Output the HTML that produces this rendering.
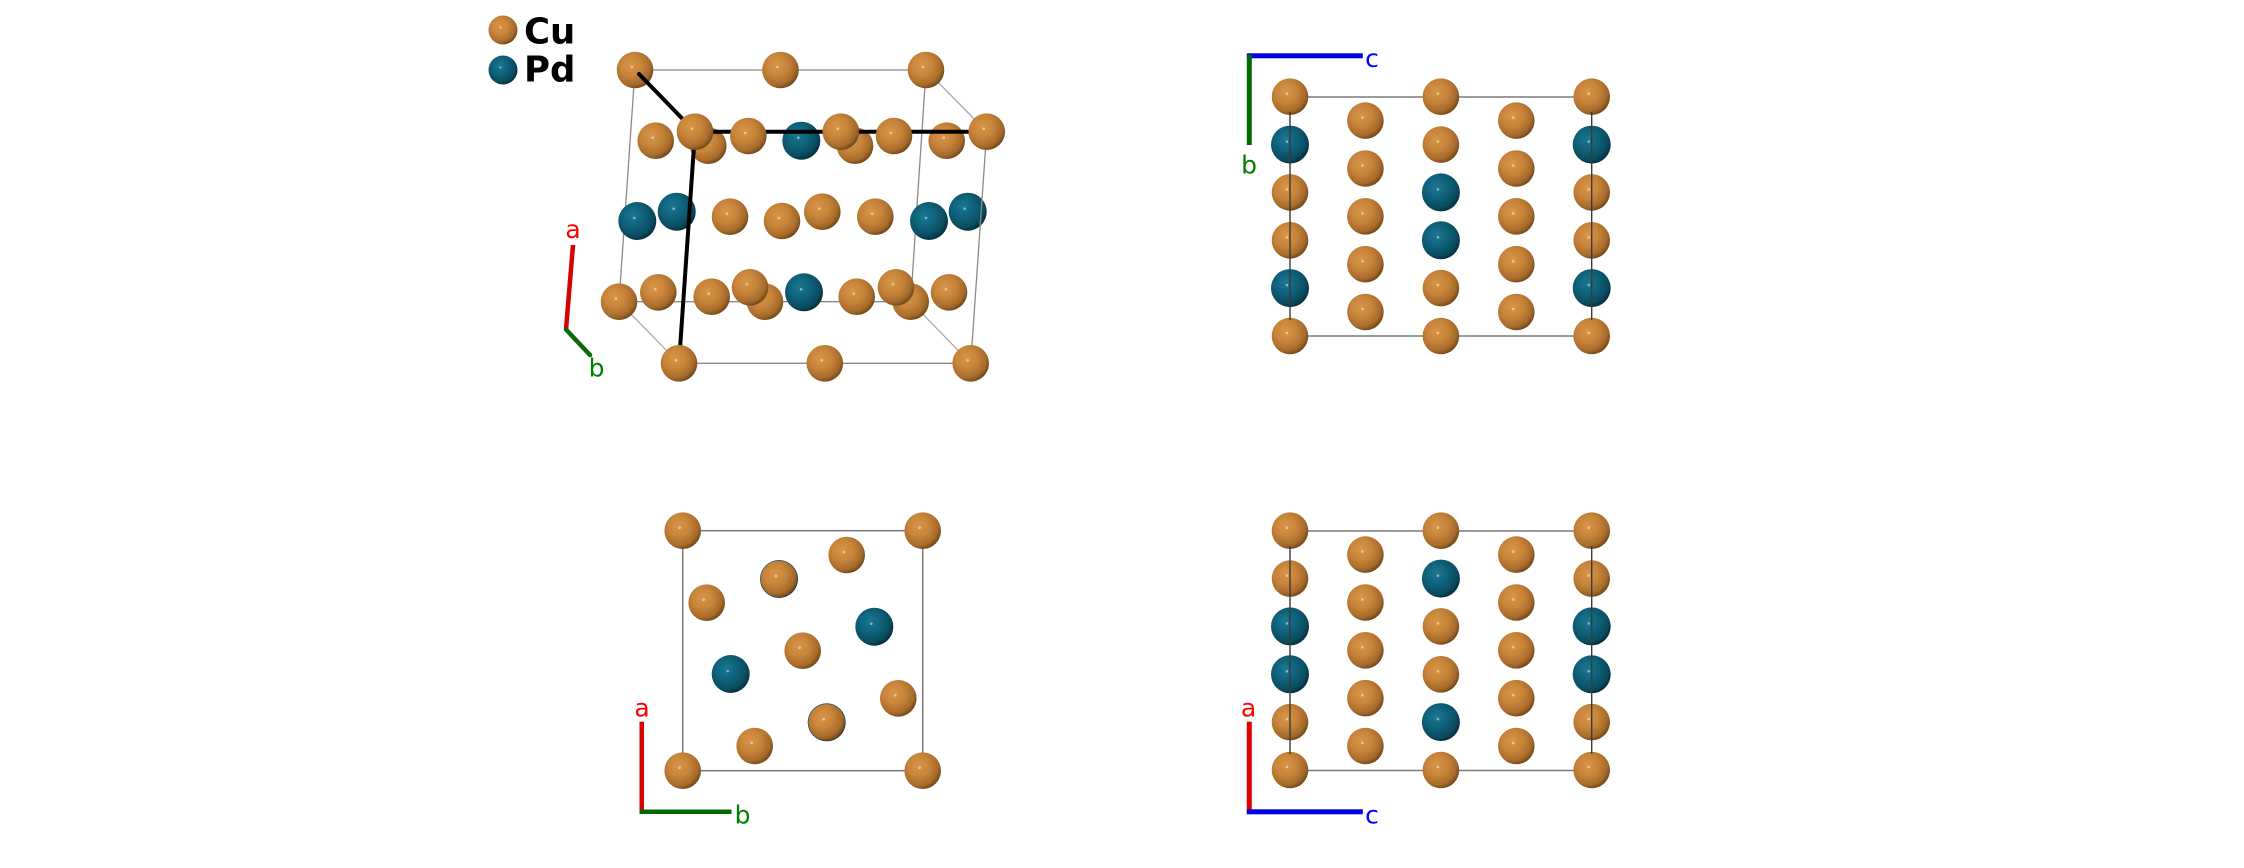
<!DOCTYPE html>
<html><head><meta charset="utf-8"><style>
html,body{margin:0;padding:0;background:#fff;}
svg{display:block;}
text{font-family:"DejaVu Sans","Liberation Sans",sans-serif;}
</style></head><body>
<svg width="2244" height="868" viewBox="0 0 2244 868" xmlns="http://www.w3.org/2000/svg">
<defs>
<radialGradient id="cu" cx="0.4" cy="0.38" r="0.66" fx="0.38" fy="0.36">
<stop offset="0" stop-color="#d99548"/>
<stop offset="0.45" stop-color="#c7843a"/>
<stop offset="0.8" stop-color="#a66a2b"/>
<stop offset="1" stop-color="#6a4316"/>
</radialGradient>
<radialGradient id="pd" cx="0.4" cy="0.38" r="0.66" fx="0.38" fy="0.36">
<stop offset="0" stop-color="#1a7892"/>
<stop offset="0.45" stop-color="#0f617a"/>
<stop offset="0.8" stop-color="#0a4b5f"/>
<stop offset="1" stop-color="#032a37"/>
</radialGradient>
<g id="C"><circle r="18.3" fill="url(#cu)"/><circle cx="-3" cy="-3" r="1.3" fill="#ecc9a0"/></g>
<g id="P"><circle r="19" fill="url(#pd)"/><circle cx="-3" cy="-3" r="1.3" fill="#86b8c8"/></g>
<g id="Cl"><circle r="14.5" fill="url(#cu)"/><circle cx="-2.5" cy="-2.5" r="1.1" fill="#ecc9a0"/></g>
<g id="Pl"><circle r="14.5" fill="url(#pd)"/><circle cx="-2.5" cy="-2.5" r="1.1" fill="#86b8c8"/></g>
</defs>

<!-- Legend -->
<use href="#Cl" x="503" y="30"/>
<use href="#Pl" x="503" y="70"/>
<text x="524" y="43.5" font-size="35.5" font-weight="bold" fill="#000">Cu</text>
<text x="524" y="81.7" font-size="35.5" font-weight="bold" fill="#000">Pd</text>

<!-- ===== Panel 1 : 3D view ===== -->
<g stroke="#8a8a8a" stroke-width="1.3" fill="none">
<line x1="635" y1="70" x2="926" y2="70"/>
<line x1="635" y1="70" x2="619" y2="301.7"/>
<line x1="926" y1="70" x2="910.7" y2="301.7"/>
<line x1="619" y1="301.7" x2="910.7" y2="301.7"/>
<line x1="926" y1="70" x2="986.7" y2="131.7" stroke="#aaa"/>
<line x1="619" y1="301.7" x2="679" y2="363.3" stroke="#aaa"/>
<line x1="910.7" y1="301.7" x2="970.7" y2="363.3" stroke="#aaa"/>
<line x1="679" y1="363.3" x2="970.7" y2="363.3"/>
</g>
<!-- back / inner atoms -->
<use href="#C" x="635" y="70"/>
<use href="#C" x="780.5" y="70"/>
<use href="#C" x="926" y="70"/>
<use href="#C" x="655.7" y="140.7"/>
<use href="#C" x="708.3" y="145.7"/>
<use href="#P" x="801.3" y="140.7"/>
<use href="#C" x="855" y="145.7"/>
<use href="#C" x="946.7" y="140.7"/>
<use href="#P" x="637.3" y="221"/>
<use href="#P" x="676.7" y="211.7"/>
<use href="#C" x="730" y="216.7"/>
<use href="#C" x="782" y="221"/>
<use href="#C" x="822.3" y="211.7"/>
<use href="#C" x="875.3" y="216.7"/>
<use href="#P" x="929" y="221"/>
<use href="#P" x="967.7" y="211.7"/>
<use href="#C" x="619" y="301.7"/>
<use href="#C" x="658.3" y="292.3"/>
<use href="#C" x="711.7" y="296.7"/>
<use href="#C" x="765" y="301.7"/>
<use href="#P" x="804" y="292.3"/>
<use href="#C" x="856.7" y="296.7"/>
<use href="#C" x="910.7" y="301.7"/>
<use href="#C" x="949" y="292.3"/>
<use href="#C" x="750" y="287.3"/>
<use href="#C" x="896" y="287.3"/>
<line x1="986.7" y1="131.7" x2="970.7" y2="363.3" stroke="#8a8a8a" stroke-width="1.3"/>
<!-- black edges -->
<g stroke="#000" stroke-width="4" stroke-linecap="round">
<line x1="639" y1="74" x2="695" y2="131.7"/>
<line x1="695" y1="131.7" x2="986.7" y2="131.7"/>
<line x1="695" y1="131.7" x2="679" y2="363.3"/>
</g>
<!-- front atoms -->
<use href="#C" x="748.3" y="136"/>
<use href="#C" x="894" y="136"/>
<use href="#C" x="695" y="131.7"/>
<use href="#C" x="840.8" y="131.7"/>
<use href="#C" x="986.7" y="131.7"/>
<use href="#C" x="679" y="363.3"/>
<use href="#C" x="824.8" y="363.3"/>
<use href="#C" x="970.7" y="363.3"/>
<!-- axes panel 1 -->
<line x1="573" y1="245" x2="566" y2="329.5" stroke="#d80000" stroke-width="4.5"/>
<line x1="566" y1="329.5" x2="590" y2="355" stroke="#0a6a0a" stroke-width="4.5" stroke-linecap="round"/>
<text x="573" y="238" font-size="25" fill="#ff0000" text-anchor="middle">a</text>
<text x="596.5" y="376.5" font-size="25" fill="#008000" text-anchor="middle">b</text>

<!-- ===== Panel 2 : top right ===== -->
<g stroke="#7a7a7a" stroke-width="1.5">
<line x1="1290" y1="97" x2="1591.7" y2="97"/>
<line x1="1290" y1="336" x2="1591.7" y2="336"/>
</g>
<g>
<use href="#C" x="1290" y="96.7"/><use href="#P" x="1290" y="144.6"/><use href="#C" x="1290" y="192.4"/><use href="#C" x="1290" y="240.3"/><use href="#P" x="1290" y="288.1"/><use href="#C" x="1290" y="336"/>
<use href="#C" x="1365.4" y="120.6"/><use href="#C" x="1365.4" y="168.5"/><use href="#C" x="1365.4" y="216.3"/><use href="#C" x="1365.4" y="264.2"/><use href="#C" x="1365.4" y="312"/>
<use href="#C" x="1440.9" y="96.7"/><use href="#C" x="1440.9" y="144.6"/><use href="#P" x="1440.9" y="192.4"/><use href="#P" x="1440.9" y="240.3"/><use href="#C" x="1440.9" y="288.1"/><use href="#C" x="1440.9" y="336"/>
<use href="#C" x="1516.3" y="120.6"/><use href="#C" x="1516.3" y="168.5"/><use href="#C" x="1516.3" y="216.3"/><use href="#C" x="1516.3" y="264.2"/><use href="#C" x="1516.3" y="312"/>
<use href="#C" x="1591.7" y="96.7"/><use href="#P" x="1591.7" y="144.6"/><use href="#C" x="1591.7" y="192.4"/><use href="#C" x="1591.7" y="240.3"/><use href="#P" x="1591.7" y="288.1"/><use href="#C" x="1591.7" y="336"/>
</g>
<g stroke="#3a3a3a" stroke-width="1.4">
<line x1="1290" y1="112" x2="1290" y2="320"/>
<line x1="1591.7" y1="112" x2="1591.7" y2="320"/>
</g>
<rect x="1246.8" y="53.3" width="116" height="5" fill="#0000e0"/>
<rect x="1246.8" y="55" width="5" height="90" fill="#006a00"/>
<text x="1372" y="67" font-size="25" fill="#0000ff" text-anchor="middle">c</text>
<text x="1249" y="173.5" font-size="25" fill="#008000" text-anchor="middle">b</text>

<!-- ===== Panel 3 : bottom left ===== -->
<g stroke="#7a7a7a" stroke-width="1.5" fill="none">
<rect x="682.7" y="530.7" width="240" height="240"/>
</g>
<use href="#C" x="682.7" y="530.7"/>
<use href="#C" x="922.7" y="530.7"/>
<use href="#C" x="682.7" y="770.7"/>
<use href="#C" x="922.7" y="770.7"/>
<use href="#C" x="846.7" y="555"/>
<use href="#P" x="779" y="579"/><use href="#C" x="779" y="579"/>
<use href="#C" x="706.7" y="602.7"/>
<use href="#P" x="874.3" y="626.7"/>
<use href="#C" x="802.7" y="650.7"/>
<use href="#P" x="730.7" y="674"/>
<use href="#C" x="898.3" y="698.3"/>
<use href="#P" x="826.7" y="722.3"/><use href="#C" x="826.7" y="722.3"/>
<use href="#C" x="754.7" y="746"/>
<rect x="639.5" y="721.7" width="4.5" height="92" fill="#d80000"/>
<rect x="639.5" y="809.5" width="92" height="4.5" fill="#006a00"/>
<text x="642" y="716.5" font-size="25" fill="#ff0000" text-anchor="middle">a</text>
<text x="742.5" y="823.3" font-size="25" fill="#008000" text-anchor="middle">b</text>

<!-- ===== Panel 4 : bottom right ===== -->
<g stroke="#7a7a7a" stroke-width="1.5">
<line x1="1290" y1="531" x2="1591.7" y2="531"/>
<line x1="1290" y1="770.5" x2="1591.7" y2="770.5"/>
</g>
<g>
<use href="#C" x="1290" y="530.7"/><use href="#C" x="1290" y="578.6"/><use href="#P" x="1290" y="626.4"/><use href="#P" x="1290" y="674.3"/><use href="#C" x="1290" y="722.1"/><use href="#C" x="1290" y="770"/>
<use href="#C" x="1365.4" y="554.6"/><use href="#C" x="1365.4" y="602.5"/><use href="#C" x="1365.4" y="650.3"/><use href="#C" x="1365.4" y="698.2"/><use href="#C" x="1365.4" y="746"/>
<use href="#C" x="1440.9" y="530.7"/><use href="#P" x="1440.9" y="578.6"/><use href="#C" x="1440.9" y="626.4"/><use href="#C" x="1440.9" y="674.3"/><use href="#P" x="1440.9" y="722.1"/><use href="#C" x="1440.9" y="770"/>
<use href="#C" x="1516.3" y="554.6"/><use href="#C" x="1516.3" y="602.5"/><use href="#C" x="1516.3" y="650.3"/><use href="#C" x="1516.3" y="698.2"/><use href="#C" x="1516.3" y="746"/>
<use href="#C" x="1591.7" y="530.7"/><use href="#C" x="1591.7" y="578.6"/><use href="#P" x="1591.7" y="626.4"/><use href="#P" x="1591.7" y="674.3"/><use href="#C" x="1591.7" y="722.1"/><use href="#C" x="1591.7" y="770"/>
</g>
<g stroke="#3a3a3a" stroke-width="1.4">
<line x1="1290" y1="546" x2="1290" y2="754"/>
<line x1="1591.7" y1="546" x2="1591.7" y2="754"/>
</g>
<rect x="1246.8" y="721.7" width="5" height="92" fill="#e00000"/>
<rect x="1246.8" y="809.3" width="116" height="5" fill="#0000e0"/>
<text x="1248.5" y="716.3" font-size="25" fill="#ff0000" text-anchor="middle">a</text>
<text x="1372" y="823.3" font-size="25" fill="#0000ff" text-anchor="middle">c</text>
</svg>
</body></html>
